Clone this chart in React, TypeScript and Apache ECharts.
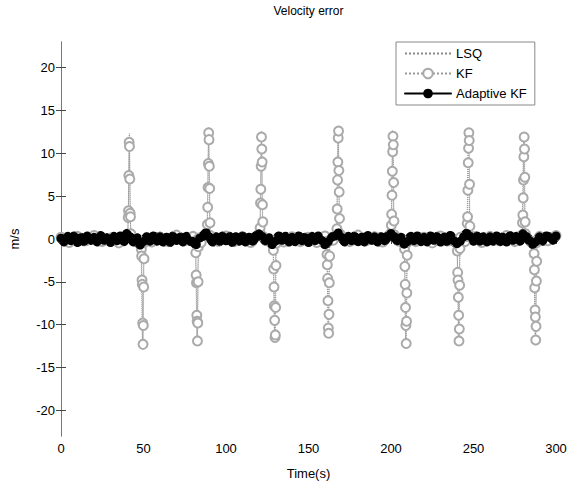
import React, { useEffect, useRef } from "react";
import * as echarts from "echarts";

const yTicks = [-20, -15, -10, -5, 0, 5, 10, 15, 20];

// Spike start times (s) shared by KF and LSQ
const spikeStarts = [40.5, 48.5, 81.5, 88.5, 120.5, 128.5, 161, 167, 200, 208, 240, 246, 279.5, 286.5];

// KF spike samples (dt = 0.2 s)
const kfDt = 0.2;
const kfSpikes = [
  [0.4, 2.5, 3.3, 7.4, 11.3, 10.8, 7.0, 3.0, 2.6, 0.6],
  [-0.3, -1.2, -2.0, -4.8, -5.3, -9.8, -12.3, -10.1, -5.6, -2.3, -0.4],
  [-0.2, -1.6, -4.2, -5.1, -8.9, -9.6, -11.9, -9.8, -5.0, -0.9, 0.1],
  [0.5, 1.7, 3.7, 6.0, 8.8, 12.4, 11.6, 8.5, 5.9, 1.9, 0.4],
  [0.6, 1.3, 4.2, 5.8, 8.5, 11.9, 10.5, 9.0, 4.0, 2.0, 0.3],
  [-0.2, -1.3, -3.5, -5.6, -7.8, -9.5, -11.5, -11.2, -8.0, -3.1, -0.5],
  [-0.3, -1.8, -3.0, -4.6, -7.2, -10.4, -11.0, -8.8, -5.1, -2.0, -0.2],
  [0.5, 1.2, 3.5, 6.9, 9.0, 11.8, 12.6, 8.0, 5.5, 2.4, 0.6],
  [0.7, 1.6, 2.9, 5.1, 7.9, 10.2, 12.0, 11.0, 6.6, 2.1, 0.5],
  [-0.2, -1.2, -3.2, -5.3, -8.0, -10.1, -12.2, -9.6, -6.3, -1.9, -0.4],
  [-0.5, -1.4, -3.9, -4.8, -6.8, -8.9, -11.9, -10.5, -5.4, -1.1, 0.2],
  [0.3, 1.8, 2.6, 5.7, 8.9, 10.6, 12.4, 11.5, 6.4, 1.5, 0.3],
  [0.5, 1.9, 2.8, 4.8, 6.9, 9.6, 11.9, 10.5, 7.2, 2.0, 0.6],
  [-0.3, -1.7, -3.6, -5.7, -8.3, -9.1, -11.8, -10.2, -4.9, -2.6, -0.4],
];

// KF baseline samples every 5 s
const kfBaseStep = 5;
const kfBase = [
  0.2, -0.4, 0.3, -0.2, 0.4, -0.3, 0.1, -0.45, 0.35, -0.2,
  0.3, -0.35, 0.2, -0.3, 0.45, -0.15, 0.3, -0.4, 0.2, -0.25,
  0.35, -0.3, 0.15, -0.4, 0.3, -0.2, 0.4, -0.35, 0.25, -0.3,
  0.2, -0.4, 0.35, -0.15, 0.3, -0.3, 0.45, -0.2, 0.25, -0.35,
  0.3, -0.25, 0.4, -0.3, 0.2, -0.45, 0.35, -0.2, 0.3, -0.3,
  0.25, -0.4, 0.3, -0.15, 0.4, -0.3, 0.2, -0.35, 0.3, -0.2,
  0.4,
];

// LSQ spike samples (dt = 0.3 s)
const lsqDt = 0.3;
const lsqSpikes = [
  [0.3, 3.5, 8.2, 12.3, 8.0, 3.0, 0.2],
  [-0.2, -4.0, -9.5, -12.8, -9.0, -3.5, -0.3],
  [-0.3, -3.8, -8.6, -12.2, -8.8, -3.2, 0.1],
  [0.3, 4.2, 9.5, 13.0, 8.6, 3.8, 0.2],
  [0.2, 3.9, 9.0, 12.6, 8.3, 3.5, 0.3],
  [-0.2, -3.6, -8.4, -11.8, -8.9, -3.4, -0.2],
  [-0.3, -3.1, -8.0, -11.5, -8.2, -2.9, -0.1],
  [0.3, 4.4, 9.6, 13.1, 9.0, 4.0, 0.2],
  [0.4, 3.8, 8.8, 12.7, 8.7, 3.3, 0.3],
  [-0.3, -4.1, -9.2, -12.5, -9.1, -3.9, -0.2],
  [-0.2, -3.7, -8.7, -12.3, -8.5, -3.6, 0.1],
  [0.3, 4.3, 9.3, 12.9, 9.2, 3.8, 0.3],
  [0.2, 3.9, 8.9, 12.4, 8.8, 3.4, 0.2],
  [-0.3, -3.8, -8.8, -12.2, -8.6, -3.5, -0.2],
];

// LSQ baseline samples every 10 s
const lsqBaseStep = 10;
const lsqBase = [
  0.3, -0.3, 0.2, -0.35, 0.25, -0.2, 0.3, -0.3, 0.2, -0.25,
  0.35, -0.2, 0.3, -0.3, 0.2, -0.35, 0.25, -0.3, 0.2, -0.25,
  0.3, -0.2, 0.35, -0.3, 0.25, -0.2, 0.3, -0.35, 0.2, -0.3,
  0.3,
];

// Adaptive KF samples every 2 s
const akfStep = 2;
const adaptiveKF = [
  0.1, -0.3, 0.25, -0.2, 0.3, -0.35, 0.15, -0.25, 0.3, -0.1,
  0.2, -0.3, 0.35, -0.15, 0.1, -0.35, 0.25, -0.2, 0.3, -0.25,
  0.6, 0.25, -0.3, 0.1, -0.7, -0.3, 0.2, -0.25, 0.3, -0.2,
  0.25, -0.3, 0.15, -0.35, 0.3, -0.1, 0.2, -0.3, 0.25, -0.2,
  -0.3, -0.65, 0.1, 0.3, 0.7, 0.25, -0.3, 0.2, -0.25, 0.3,
  -0.15, 0.25, -0.35, 0.2, -0.2, 0.3, -0.3, 0.15, -0.25, 0.3,
  0.6, 0.3, -0.2, 0.1, -0.65, -0.25, 0.3, -0.15, 0.25, -0.3,
  0.2, -0.25, 0.3, -0.2, 0.15, -0.35, 0.25, -0.2, 0.3, -0.15,
  -0.6, -0.3, 0.2, 0.35, 0.7, 0.2, -0.3, 0.25, -0.2, 0.3,
  -0.25, 0.2, -0.3, 0.35, -0.1, 0.25, -0.3, 0.2, -0.2, 0.3,
  0.65, 0.3, -0.2, 0.15, -0.6, -0.3, 0.25, -0.2, 0.3, -0.25,
  0.2, -0.3, 0.3, -0.15, 0.25, -0.3, 0.2, -0.25, 0.35, -0.2,
  -0.55, -0.25, 0.25, 0.65, 0.3, -0.2, 0.3, -0.25, 0.2, -0.3,
  0.25, -0.2, 0.3, -0.25, 0.2, -0.3, 0.35, -0.15, 0.25, -0.2,
  0.6, 0.3, -0.2, -0.6, -0.3, 0.25, -0.2, 0.3, 0.2, -0.1, 0.35,
];

function buildSeries(
  starts: number[],
  spikes: number[][],
  dt: number,
  baseStep: number,
  base: number[]
): number[][] {
  const pts: number[][] = [];
  const windows = starts.map((s, i) => [s - 0.6, s + dt * (spikes[i].length - 1) + 0.6]);
  base.forEach((v, i) => {
    const t = i * baseStep;
    if (!windows.some(([a, b]) => t >= a && t <= b)) pts.push([t, v]);
  });
  spikes.forEach((arr, k) =>
    arr.forEach((v, j) => pts.push([+(starts[k] + j * dt).toFixed(2), v]))
  );
  pts.sort((a, b) => a[0] - b[0]);
  return pts;
}

const FONT = "Liberation Sans";
const AXIS_COLOR = "#777";

export default function App() {
  const ref = useRef<HTMLDivElement>(null);
  useEffect(() => {
    if (!ref.current) return;
    const chart = echarts.init(ref.current, undefined, { renderer: "svg" });
    const kfData = buildSeries(spikeStarts, kfSpikes, kfDt, kfBaseStep, kfBase);
    const lsqData = buildSeries(spikeStarts, lsqSpikes, lsqDt, lsqBaseStep, lsqBase);
    const akfData = adaptiveKF.map((v, i) => [i * akfStep, v]);

    const tickStyle = { show: true, inside: true, length: 5, lineStyle: { color: "#444", width: 1 } };

    chart.setOption({
      animation: false,
      backgroundColor: "#fff",
      textStyle: { fontFamily: FONT },
      grid: { left: 59, right: 27, top: 35, bottom: 42, containLabel: false },
      legend: {
        data: [
          { name: "LSQ", itemStyle: { opacity: 0 } },
          { name: "KF" },
          { name: "Adaptive KF", lineStyle: { width: 2 } },
        ],
        orient: "vertical",
        left: 396,
        top: 42,
        padding: [5, 8, 5, 8],
        itemWidth: 46,
        itemHeight: 12,
        itemGap: 7,
        borderColor: "#888",
        borderWidth: 1,
        backgroundColor: "#fff",
        textStyle: { fontSize: 13, color: "#000", fontFamily: FONT },
      },
      xAxis: [
        {
          type: "value",
          min: 0,
          max: 300,
          interval: 50,
          name: "Time(s)",
          nameLocation: "middle",
          nameGap: 31,
          nameTextStyle: { fontSize: 13, color: "#000", fontFamily: FONT },
          axisLine: { show: true, lineStyle: { color: AXIS_COLOR, width: 1 } },
          axisTick: tickStyle,
          axisLabel: { fontSize: 13, color: "#000", margin: 6, fontFamily: FONT },
          splitLine: { show: false },
        },
        {
          type: "value",
          position: "top",
          min: 0,
          max: 300,
          interval: 50,
          name: "Velocity error",
          nameLocation: "middle",
          nameGap: 25,
          nameTextStyle: { fontSize: 12, color: "#000", fontFamily: FONT },
          axisLine: { show: true, lineStyle: { color: AXIS_COLOR, width: 1 } },
          axisTick: tickStyle,
          axisLabel: { show: false },
          splitLine: { show: false },
        },
      ],
      yAxis: [
        {
          type: "value",
          min: -23,
          max: 23,
          name: "m/s",
          nameLocation: "middle",
          nameGap: 40,
          nameTextStyle: { fontSize: 13, color: "#000", fontFamily: FONT },
          axisLine: { show: true, lineStyle: { color: AXIS_COLOR, width: 1 } },
          axisTick: { ...tickStyle, customValues: yTicks },
          axisLabel: { fontSize: 13, color: "#000", margin: 6, fontFamily: FONT, customValues: yTicks },
          splitLine: { show: false },
        },
        {
          type: "value",
          position: "right",
          min: -23,
          max: 23,
          axisLine: { show: true, lineStyle: { color: AXIS_COLOR, width: 1 } },
          axisTick: { ...tickStyle, customValues: yTicks },
          axisLabel: { show: false, customValues: yTicks },
          splitLine: { show: false },
        },
      ],
      series: [
        {
          name: "LSQ",
          type: "line",
          data: lsqData,
          symbol: "none",
          lineStyle: { type: "dotted", color: "#888", width: 1 },
          itemStyle: { color: "#888" },
        },
        {
          name: "KF",
          type: "line",
          data: kfData,
          symbol: "emptyCircle",
          symbolSize: 9,
          lineStyle: { type: "dotted", color: "#999", width: 1 },
          itemStyle: { color: "#aaa", borderColor: "#aaa", borderWidth: 1 },
        },
        {
          name: "Adaptive KF",
          type: "line",
          data: akfData,
          symbol: "circle",
          symbolSize: 9,
          lineStyle: { color: "#000", width: 10, join: "round", cap: "round" },
          itemStyle: { color: "#000" },
        },
      ],
    });
    return () => chart.dispose();
  }, []);
  return (
    <div
      ref={ref}
      style={{ position: "fixed", left: 0, top: 0, width: 583, height: 485, background: "#fff" }}
    />
  );
}
